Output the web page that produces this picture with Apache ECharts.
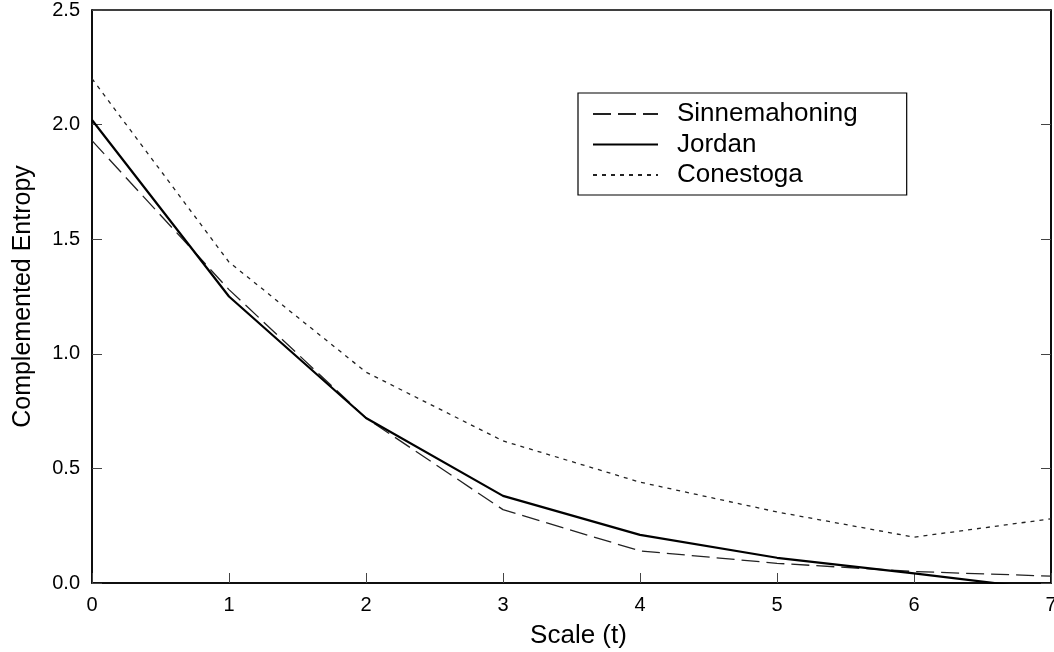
<!DOCTYPE html>
<html>
<head>
<meta charset="utf-8">
<script src="https://cdn.jsdelivr.net/npm/echarts@6/dist/echarts.min.js"></script>
<style>html,body{margin:0;padding:0;background:#fff;}#c{width:1054px;height:652px;}</style>
</head>
<body>
<div id="c"></div>
<script>
const scales = [0, 1, 2, 3, 4, 5, 6, 7];
const sinnemahoning = [1.93, 1.28, 0.72, 0.32, 0.14, 0.086, 0.05, 0.03];
const jordan = [2.02, 1.25, 0.72, 0.38, 0.21, 0.11, 0.042, -0.03];
const conestoga = [2.2, 1.4, 0.92, 0.62, 0.44, 0.31, 0.20, 0.28];
const yTicks = ['0.0', '0.5', '1.0', '1.5', '2.0', '2.5'];

const font = 'Liberation Sans, Arial, sans-serif';
const pair = arr => scales.map((x, i) => [x, arr[i]]);

const chart = echarts.init(document.getElementById('c'));
chart.setOption({
  animation: false,
  backgroundColor: '#fff',
  grid: { left: 92, right: 3, top: 10, bottom: 69, show: true, borderColor: '#000', borderWidth: 1.5,
    containLabel: false, outerBoundsMode: 'none' },
  legend: {
    left: 578, top: 93, orient: 'vertical',
    itemWidth: 65, itemHeight: 26, itemGap: 4.5,
    padding: [8, 49, 7, 14],
    borderColor: '#000', borderWidth: 1.2,
    itemStyle: { color: 'rgba(0,0,0,0)', borderWidth: 0 },
    textStyle: { fontFamily: font, fontSize: 26, color: '#000', padding: [0, 0, 0, 14] },
    data: ['Sinnemahoning', 'Jordan', 'Conestoga']
  },
  xAxis: [{
    type: 'value', min: 0, max: 7, interval: 1,
    name: 'Scale (t)', nameLocation: 'middle', nameGap: 40,
    nameTextStyle: { fontFamily: font, fontSize: 26, color: '#000', padding: [0, 0, 0, 14] },
    axisLine: { show: true, lineStyle: { color: '#000', width: 1.5 } },
    axisTick: { show: true, inside: true, length: 10, lineStyle: { color: '#444' } },
    axisLabel: { fontFamily: font, fontSize: 20, color: '#000', margin: 12 },
    splitLine: { show: false }
  }],
  yAxis: [{
    type: 'value', min: 0, max: 2.5, interval: 0.5,
    name: 'Complemented Entropy', nameLocation: 'middle', nameGap: 56, nameRotate: 90,
    nameTextStyle: { fontFamily: font, fontSize: 25, color: '#000' },
    axisLine: { show: true, lineStyle: { color: '#000', width: 1.5 } },
    axisTick: { show: true, inside: true, length: 10, lineStyle: { color: '#444' } },
    axisLabel: { fontFamily: font, fontSize: 20, color: '#000', margin: 12,
      formatter: (v) => yTicks[Math.round(v / 0.5)] },
    splitLine: { show: false }
  }, {
    type: 'value', min: 0, max: 2.5, interval: 0.5, position: 'right',
    axisLine: { show: true, lineStyle: { color: '#000', width: 1.5 } },
    axisTick: { show: true, inside: true, length: 10, lineStyle: { color: '#444' } },
    axisLabel: { show: false },
    splitLine: { show: false }
  }],
  series: [
    { name: 'Sinnemahoning', type: 'line', data: pair(sinnemahoning), symbol: 'none', clip: true,
      lineStyle: { color: '#222', width: 1.3, type: [18, 7] } },
    { name: 'Jordan', type: 'line', data: pair(jordan), symbol: 'none', clip: true,
      lineStyle: { color: '#000', width: 2.2, type: 'solid' } },
    { name: 'Conestoga', type: 'line', data: pair(conestoga), symbol: 'none', clip: true,
      lineStyle: { color: '#222', width: 1.3, type: [4, 5] } }
  ]
});
</script>
</body>
</html>
